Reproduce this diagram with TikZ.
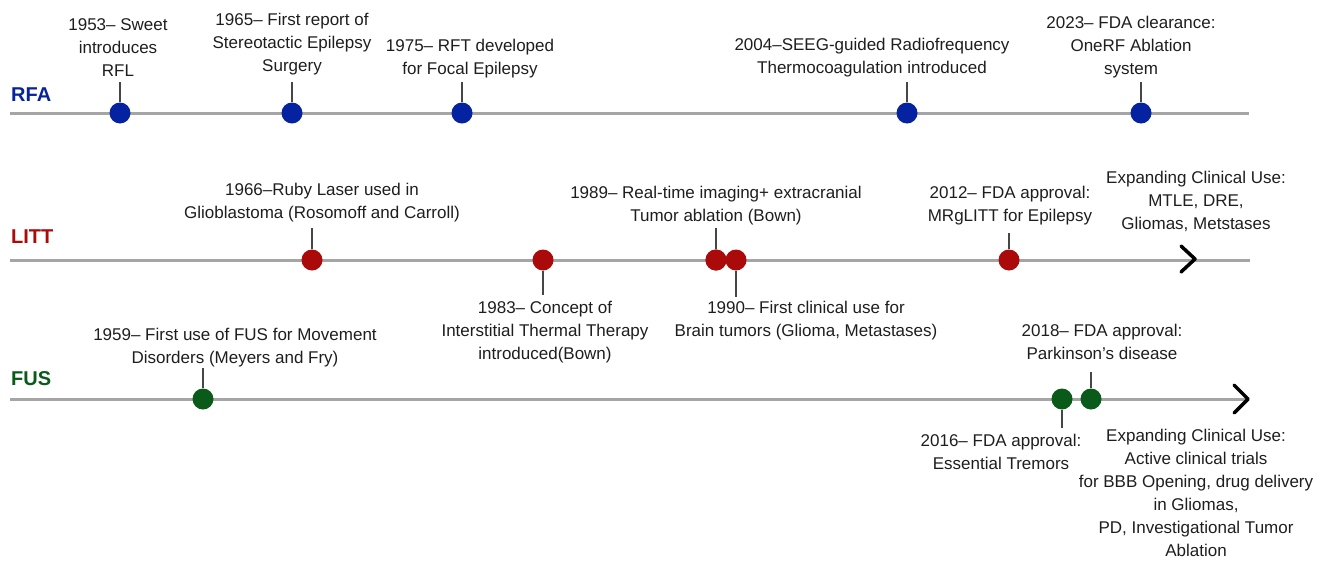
\documentclass[tikz,border=0pt]{standalone}
\usepackage{fontspec}
\setmainfont{Liberation Sans}
\definecolor{rfablue}{RGB}{5,35,160}
\definecolor{littred}{RGB}{170,10,10}
\definecolor{fusgreen}{RGB}{10,90,25}
\definecolor{axisgray}{RGB}{165,165,165}
\definecolor{stemgray}{RGB}{70,70,70}
\definecolor{txt}{RGB}{30,30,30}
\begin{document}
\begin{tikzpicture}[x=1pt,y=-1pt,
  axis/.style={draw=axisgray,line width=3pt},
  stem/.style={draw=stemgray,line width=2pt},
  dot/.style={circle,minimum size=21pt,inner sep=0pt,fill=#1},
  lbl/.style={font=\fontsize{17}{23}\selectfont,align=center,anchor=base,inner sep=0pt,text=txt},
  head/.style={font=\fontsize{20}{24}\selectfont\bfseries,anchor=base west,inner sep=0pt,text=#1},
  chev/.style={draw=black,line width=3.5pt,line cap=round,line join=round}]
\useasboundingbox (0,0) rectangle (1329,560);

% ---------- RFA ----------
\node[head=rfablue] (hRFA) at (11,101) {RFA};
\coordinate (rfaS) at (10,113);
\coordinate (rfaE) at (1249,113);
\draw[axis] (rfaS) -- (rfaE);
\node[dot=rfablue] (r1) at (120,113) {};
\node[dot=rfablue] (r2) at (292,113) {};
\node[dot=rfablue] (r3) at (462,113) {};
\node[dot=rfablue] (r4) at (907,113) {};
\node[dot=rfablue] (r5) at (1141,113) {};
\draw[stem] (r1.north) -- ++(0,-20.5);
\draw[stem] (r2.north) -- ++(0,-20.5);
\draw[stem] (r3.north) -- ++(0,-20.5);
\draw[stem] (r4.north) -- ++(0,-20.5);
\draw[stem] (r5.north) -- ++(0,-20.5);
\node[lbl] (lr1) at (118,76) {1953– Sweet\\introduces\\RFL};
\node[lbl] (lr2) at (292,71) {1965– First report of\\Stereotactic Epilepsy\\Surgery};
\node[lbl] (lr3) at (470,74) {1975– RFT developed\\for Focal Epilepsy};
\node[lbl] (lr4) at (872,73) {2004–SEEG-guided Radiofrequency\\Thermocoagulation introduced};
\node[lbl] (lr5) at (1131,74) {2023– FDA clearance:\\OneRF Ablation\\system};

% ---------- LITT ----------
\node[head=littred] (hLITT) at (11,243) {LITT};
\coordinate (litS) at (10,260);
\coordinate (litE) at (1250,260);
\draw[axis] (litS) -- (litE);
\node[dot=littred] (t1) at (312,260) {};
\node[dot=littred] (t2) at (543,260) {};
\node[dot=littred] (t3) at (716,260) {};
\node[dot=littred] (t4) at (736,260) {};
\node[dot=littred] (t5) at (1009,260) {};
\draw[stem] (t1.north) -- ++(0,-21.5);
\draw[stem] (t3.north) -- ++(0,-21.5);
\draw[stem] (t5.north) -- ++(0,-16.5);
\draw[stem] (t2.south) -- ++(0,24.5);
\draw[stem] (t4.south) -- ++(0,26.5);
\node[dot=littred] at (t3) {};
\node[lbl] (lt1) at (322,218) {1966–Ruby Laser used in\\Glioblastoma (Rosomoff and Carroll)};
\node[lbl] (lt3) at (716,221) {1989– Real-time imaging+ extracranial\\Tumor ablation (Bown)};
\node[lbl] (lt5) at (1010,221) {2012– FDA approval:\\MRgLITT for Epilepsy};
\node[lbl] (lt6) at (1196,229) {Expanding Clinical Use:\\MTLE, DRE,\\Gliomas, Metstases};
\node[lbl] (lt2) at (545,359) {1983– Concept of\\Interstitial Thermal Therapy\\introduced(Bown)};
\node[lbl] (lt4) at (806,336) {1990– First clinical use for\\Brain tumors (Glioma, Metastases)};
\draw[chev] (1181,246) -- (1195,259) -- (1181,272);

% ---------- FUS ----------
\node[head=fusgreen] (hFUS) at (11,385) {FUS};
\coordinate (fusS) at (10,399);
\coordinate (fusE) at (1247,399);
\draw[axis] (fusS) -- (fusE);
\node[dot=fusgreen] (f1) at (203,399) {};
\node[dot=fusgreen] (f2) at (1062,399) {};
\node[dot=fusgreen] (f3) at (1091,399) {};
\draw[stem] (f1.north) -- ++(0,-20.5);
\draw[stem] (f3.north) -- ++(0,-16.5);
\draw[stem] (f2.south) -- ++(0,18.5);
\node[lbl] (lf1) at (235,363) {1959– First use of FUS for Movement\\Disorders (Meyers and Fry)};
\node[lbl] (lf3) at (1102,359) {2018– FDA approval:\\Parkinson's disease};
\node[lbl] (lf2) at (1001,469) {2016– FDA approval:\\Essential Tremors};
\node[lbl] (lf4) at (1196,556) {Expanding Clinical Use:\\Active clinical trials\\for BBB Opening, drug delivery\\in Gliomas,\\PD, Investigational Tumor\\Ablation};
\draw[chev] (1234,385) -- (1248,399) -- (1234,413);
\end{tikzpicture}
\end{document}
